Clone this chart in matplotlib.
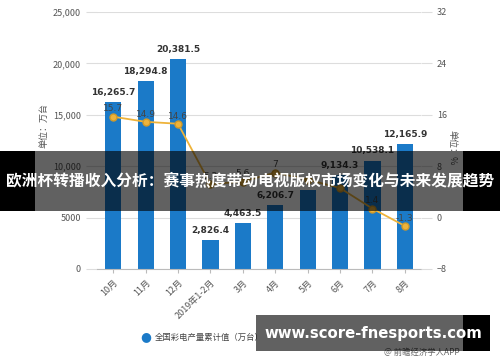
import matplotlib
matplotlib.use("Agg")
import matplotlib.pyplot as plt
from matplotlib.patches import Rectangle

plt.rcParams['font.family'] = ['Noto Sans CJK SC', 'DejaVu Sans']

months = ['10月', '11月', '12月', '2019年1-2月', '3月', '4月', '5月', '6月', '7月', '8月']
output = [16265.7, 18294.8, 20381.5, 2826.4, 4463.5, 6206.7, 7700.0, 9134.3, 10538.1, 12165.9]
output_labels = ['16,265.7', '18,294.8', '20,381.5', '2,826.4', '4,463.5', '6,206.7', '', '9,134.3', '10,538.1', '12,165.9']
growth = [15.7, 14.9, 14.6, 5.2, 5.6, 7.0, 5.9, 4.6, 1.4, -1.3]
growth_labels = ['15.7', '14.9', '14.6', '5.2', '5.6', '7', '', '', '1.4', '-1.3']

bar_color = '#1b7ac8'
line_color = '#eeb33a'
grey = '#555555'

fig = plt.figure(figsize=(5, 3.62), dpi=100)
ax = fig.add_axes([0.194, 0.257, 0.648, 0.71])
ax2 = ax.twinx()

x = list(range(len(months)))
ax.bar(x, output, width=0.5, color=bar_color, zorder=2)
for xi, v, lab in zip(x, output, output_labels):
    ax.text(xi, v + 500, lab, ha='center', va='bottom', fontsize=6.5,
            fontweight='bold', color='#333333', family='DejaVu Sans')

ax.set_ylim(0, 25000)
ax.set_yticks([0, 5000, 10000, 15000, 20000, 25000])
ax.set_yticklabels(['0', '5000', '10,000', '15,000', '20,000', '25,000'])
ax.set_xlim(-0.5, len(months) - 0.5)
ax.set_xticks(x)
ax.set_xticklabels(months, rotation=45, ha='right', rotation_mode='anchor')
ax.tick_params(axis='x', labelsize=6.5, colors=grey, length=3, color='#bbbbbb')
ax.tick_params(axis='y', labelsize=6.5, colors=grey, length=8, color='#dddddd')
ax.grid(axis='y', color='#dddddd', linewidth=0.8, zorder=0)
ax.set_axisbelow(True)
for s in ['top', 'right', 'left']:
    ax.spines[s].set_visible(False)
ax.spines['bottom'].set_color('#bbbbbb')
ax.set_ylabel('单位：万台', fontsize=6.5, color=grey)
ax.yaxis.set_label_coords(-0.15, 0.56)

ax2.plot(x, growth, color=line_color, linewidth=1.3, marker='o', markersize=5,
         markerfacecolor=line_color, markeredgecolor='#d09a2a', zorder=3)
for xi, v, lab in zip(x, growth, growth_labels):
    ax2.text(xi, v + 0.5, lab, ha='center', va='bottom', fontsize=6.5,
             color='#444444', family='DejaVu Sans')
ax2.set_ylim(-8, 32)
ax2.set_yticks([-8, 0, 8, 16, 24, 32])
ax2.tick_params(axis='y', labelsize=6.5, colors=grey, length=8, color='#dddddd')
for s in ['top', 'right', 'left', 'bottom']:
    ax2.spines[s].set_visible(False)
ax2.set_ylabel('单位：%', fontsize=6.5, color=grey, rotation=270)
ax2.yaxis.set_label_coords(1.11, 0.47)

# legend
fig.text(0.292, 0.069, '●', fontsize=9, color=bar_color, ha='center', va='center',
         family='DejaVu Sans')
fig.text(0.31, 0.069, '全国彩电产量累计值（万台）', fontsize=6, color='#444444',
         ha='left', va='center')
fig.text(0.92, 0.027, '@ 前瞻经济学人APP', fontsize=6, color='#666666',
         ha='right', va='center')

# title banner
fig.patches.append(Rectangle((0, 0.418), 0.07, 0.166, transform=fig.transFigure,
                             facecolor='black', edgecolor='none', zorder=10))
fig.patches.append(Rectangle((0.926, 0.418), 0.074, 0.166, transform=fig.transFigure,
                             facecolor='black', edgecolor='none', zorder=10))
fig.patches.append(Rectangle((0.07, 0.418), 0.856, 0.166, transform=fig.transFigure,
                             facecolor='black', edgecolor='none', alpha=0.62, zorder=10))
fig.text(0.5, 0.5, '欧洲杯转播收入分析：赛事热度带动电视版权市场变化与未来发展趋势',
         fontsize=11.3, fontweight='bold', color='white', ha='center', va='center', zorder=11)

# url banner
fig.patches.append(Rectangle((0.926, 0.03), 0.054, 0.1, transform=fig.transFigure,
                             facecolor='black', edgecolor='none', zorder=10))
fig.patches.append(Rectangle((0.512, 0.03), 0.414, 0.1, transform=fig.transFigure,
                             facecolor='black', edgecolor='none', alpha=0.62, zorder=10))
fig.text(0.747, 0.08, 'www.score-fnesports.com', fontsize=10.7, fontweight='bold',
         color='white', ha='center', va='center', zorder=11, family='DejaVu Sans')

fig.savefig('out.png', dpi=100)
